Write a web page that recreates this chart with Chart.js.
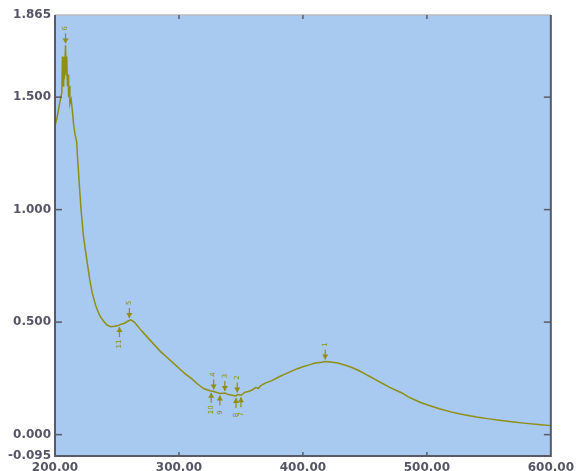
<!DOCTYPE html>
<html>
<head>
<meta charset="utf-8">
<script src="https://cdn.jsdelivr.net/npm/chart.js@4"></script>
<style>
html,body{margin:0;padding:0;background:#fff;}
canvas{display:block;}
</style>
</head>
<body>
<canvas id="c" width="579" height="471"></canvas>
<script>
// Wavelength (nm)
const wavelengths = [200,202,204,205.5,206,206.5,207,207.5,208.5,209,209.5,210,210.5,211,211.5,212,213,214,215,216,217.5,218.3,221,223,225.6,228,230,233,236,239,242,245,248,251,253,256,259,261,264,267,270,275,280,285,290,295,300,305,310,315,320,325,328,330,333,337,340,343,346,347,350,353,356,359,362,364,366,370,375,380,385,390,395,400,405,410,415,418,422,428,435,440,445,450,455,460,465,470,475,480,485,490,495,500,510,520,530,540,550,560,570,580,590,600];
// Absorbance
const absorbance = [1.37,1.42,1.48,1.52,1.68,1.55,1.68,1.58,1.73,1.60,1.68,1.55,1.60,1.50,1.55,1.47,1.49,1.44,1.38,1.34,1.30,1.22,1.00,0.88,0.78,0.69,0.63,0.57,0.53,0.505,0.487,0.48,0.482,0.485,0.49,0.495,0.505,0.51,0.50,0.48,0.46,0.43,0.40,0.37,0.345,0.32,0.295,0.27,0.25,0.225,0.205,0.195,0.192,0.188,0.183,0.185,0.178,0.175,0.172,0.178,0.175,0.188,0.192,0.198,0.21,0.205,0.218,0.23,0.24,0.255,0.268,0.28,0.292,0.302,0.31,0.318,0.322,0.325,0.323,0.318,0.307,0.297,0.285,0.27,0.255,0.24,0.225,0.21,0.197,0.185,0.168,0.155,0.143,0.133,0.115,0.10,0.088,0.078,0.07,0.063,0.056,0.05,0.045,0.04];

// Axis ticks
const yTickValues = [1.865,1.5,1.0,0.5,0.0,-0.095];
const yInnerTicks = [1.5,1.0,0.5,0.0];
const xTickValues = [200,300,400,500,600];
const xInnerTicks = [300,400,500];

// Peak / valley annotations
const peakX = [418,347,337,328,260,208.5];
const peakY = [0.325,0.178,0.185,0.192,0.51,1.73];
const peakLabels = ['1','2','3','4','5','6'];
const valleyX = [350,346,333,326,252];
const valleyY = [0.175,0.172,0.183,0.195,0.487];
const valleyLabels = ['7','8','9','10','11'];

const points = wavelengths.map((w,i)=>({x:w,y:absorbance[i]}));
const olive = '#8f8f14';

const framePlugin = {
  id:'frame',
  beforeDatasetsDraw(chart){
    const {ctx, chartArea:a} = chart;
    ctx.save();
    ctx.fillStyle = '#a8c9f0';
    ctx.fillRect(a.left, a.top, a.right-a.left, a.bottom-a.top);
    ctx.restore();
  },
  afterDatasetsDraw(chart){
    const {ctx, chartArea:a, scales} = chart;
    const xs = scales.x, ys = scales.y;
    ctx.save();
    ctx.strokeStyle = '#b8b8c0'; ctx.lineWidth = 1.5;
    ctx.beginPath(); ctx.moveTo(a.left, a.top); ctx.lineTo(a.right, a.top); ctx.stroke();
    ctx.strokeStyle = '#5a5a66'; ctx.lineWidth = 2;
    ctx.beginPath();
    ctx.moveTo(a.left, a.top); ctx.lineTo(a.left, a.bottom); ctx.lineTo(a.right, a.bottom); ctx.lineTo(a.right, a.top);
    ctx.stroke();
    ctx.strokeStyle = '#5a5a66'; ctx.lineWidth = 1.5;
    yInnerTicks.forEach(v=>{
      const py = ys.getPixelForValue(v);
      ctx.beginPath(); ctx.moveTo(a.left, py); ctx.lineTo(a.left+7, py); ctx.stroke();
      ctx.beginPath(); ctx.moveTo(a.right, py); ctx.lineTo(a.right-7, py); ctx.stroke();
    });
    xInnerTicks.forEach(v=>{
      const px = xs.getPixelForValue(v);
      ctx.beginPath(); ctx.moveTo(px, a.bottom); ctx.lineTo(px, a.bottom-4); ctx.stroke();
      ctx.beginPath(); ctx.moveTo(px, a.top); ctx.lineTo(px, a.top+4); ctx.stroke();
    });
    ctx.strokeStyle = olive; ctx.fillStyle = olive; ctx.lineWidth = 1.2;
    ctx.font = '7px "DejaVu Sans"';
    ctx.textAlign = 'center'; ctx.textBaseline = 'middle';
    const arrow = (px, tipY, dir) => {
      const tail = tipY - dir*10;
      ctx.beginPath(); ctx.moveTo(px, tail); ctx.lineTo(px, tipY); ctx.stroke();
      ctx.beginPath();
      ctx.moveTo(px, tipY); ctx.lineTo(px-3, tipY - dir*5); ctx.lineTo(px+3, tipY - dir*5); ctx.closePath(); ctx.fill();
    };
    const label = (px, py, txt) => {
      ctx.save(); ctx.translate(px, py); ctx.rotate(-Math.PI/2); ctx.fillText(txt, 0, 0); ctx.restore();
    };
    peakX.forEach((x,i)=>{
      const px = xs.getPixelForValue(x), py = ys.getPixelForValue(peakY[i]);
      arrow(px, py-2, 1);
      label(px, py-17, peakLabels[i]);
    });
    valleyX.forEach((x,i)=>{
      const px = xs.getPixelForValue(x), py = ys.getPixelForValue(valleyY[i]);
      arrow(px, py+2, -1);
      label(px, py+19, valleyLabels[i]);
    });
    ctx.restore();
  }
};

new Chart(document.getElementById('c'), {
  type:'line',
  data:{datasets:[{data:points, borderColor:olive, borderWidth:1.5, pointRadius:0, tension:0, fill:false}]},
  options:{
    responsive:false, animation:false,
    layout:{padding:{top:15, right:17, left:0, bottom:0}},
    plugins:{legend:{display:false}, tooltip:{enabled:false}},
    scales:{
      x:{type:'linear', min:200, max:600,
        afterBuildTicks(s){ s.ticks = xTickValues.map(v=>({value:v})); },
        afterFit(s){ s.height = 15; },
        grid:{display:false, drawTicks:false}, border:{display:false},
        ticks:{padding:5, maxRotation:0, autoSkip:false, color:'#555566',
          font:{family:'DejaVu Sans', size:12, weight:'bold'},
          callback:v=>Number(v).toFixed(2)}
      },
      y:{type:'linear', min:-0.095, max:1.865,
        afterBuildTicks(s){ s.ticks = yTickValues.map(v=>({value:v})); },
        afterFit(s){ s.width = 55; },
        grid:{display:false, drawTicks:false}, border:{display:false},
        ticks:{padding:4, autoSkip:false, color:'#555566',
          font:{family:'DejaVu Sans', size:12, weight:'bold'},
          callback:v=>Number(v).toFixed(3)}
      }
    }
  },
  plugins:[framePlugin]
});
</script>
</body>
</html>
